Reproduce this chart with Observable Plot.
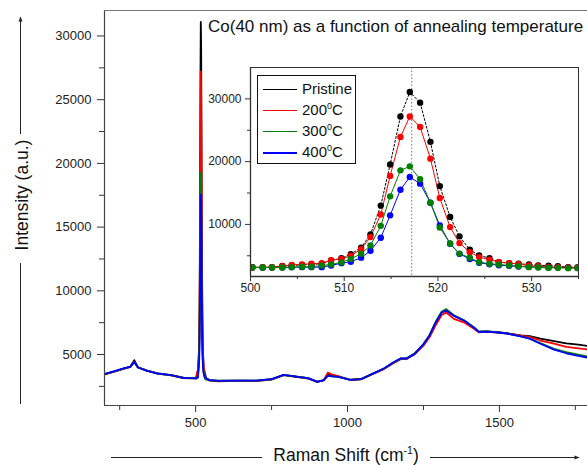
<!DOCTYPE html>
<html><head><meta charset="utf-8">
<script src="https://cdn.jsdelivr.net/npm/d3@7"></script>
<script src="https://cdn.jsdelivr.net/npm/@observablehq/plot@0.6"></script>
<style>
body{margin:0;background:#fff;}
#wrap{position:relative;width:587px;height:465px;overflow:hidden;font-family:"Liberation Sans",Arial,sans-serif;color:#111;background:#fff;}
#main,#inset,#deco{position:absolute;}
#main{left:0;top:0}
#inset{left:195px;top:60px}
#deco{left:0;top:0}
.t{position:absolute;white-space:nowrap;}
#title{left:208px;top:17px;font-size:17px;line-height:20px;}
#ylab{left:22px;top:195px;font-size:17.5px;line-height:20px;transform:translate(-50%,-50%) rotate(-90deg);}
#xlab{left:346px;top:456px;font-size:17.5px;line-height:16px;transform:translate(-50%,-50%);}
.sp{font-size:0.6em;position:relative;top:-0.7em;}
#legend{position:absolute;left:257px;top:75px;width:99px;height:89px;border:1.5px solid #111;background:#fff;box-sizing:border-box;}
.row{position:absolute;left:5px;height:20px;font-size:15px;}
.row .ln{position:absolute;left:0;top:10px;width:34px;}
.row .lb{position:absolute;left:39px;top:0;line-height:20px;}
</style></head>
<body><div id="wrap"></div>
<script>
// ---------- data ----------
const seriesNames = ["Pristine", "200\u2070C", "300\u2070C", "400\u2070C"];
const seriesColors = ["#000000", "#ff0000", "#008000", "#0000ff"];

// wide spectrum positions (cm-1), outside the 500-535 window
const wideX = [200, 230, 260, 285, 298, 310, 340, 375, 420, 460, 490,
  545, 575, 640, 700, 750, 790, 835, 870, 900, 922, 935, 950, 970, 1010, 1045, 1080, 1120, 1150, 1175, 1195,
  1220, 1250, 1270, 1290, 1310, 1325, 1350, 1385, 1415, 1432, 1460, 1495, 1525, 1570, 1600, 1635, 1680, 1720, 1760, 1790];
const pristineWide = [3460, 3650, 3880, 4050, 4560, 4000, 3740, 3520, 3380, 3180, 3150,
  2990, 2950, 2960, 2960, 3060, 3400, 3260, 3150, 2880, 2990, 3450, 3350, 3260, 3020, 3080, 3460, 3900, 4350, 4680, 4700,
  5050, 5800, 6500, 7500, 8300, 8480, 8050, 7650, 7150, 6800, 6820, 6750, 6680, 6500, 6450, 6250, 6050, 5880, 5780, 5680];
const t200Wide = [3440, 3640, 3860, 4030, 4450, 3990, 3730, 3500, 3360, 3150, 3130,
  2960, 2900, 2930, 2920, 3030, 3380, 3230, 3120, 2860, 2980, 3580, 3420, 3300, 3000, 3060, 3430, 3860, 4300, 4640, 4660,
  5000, 5700, 6350, 7300, 8100, 8300, 7800, 7500, 7050, 6750, 6780, 6720, 6640, 6480, 6380, 6100, 5850, 5600, 5480, 5400];
const t300Wide = [3450, 3650, 3880, 4040, 4400, 4000, 3730, 3510, 3370, 3160, 3140,
  2970, 2930, 2950, 2940, 3050, 3390, 3240, 3140, 2850, 2980, 3340, 3290, 3240, 3010, 3070, 3450, 3890, 4340, 4680, 4700,
  5050, 5820, 6520, 7550, 8380, 8560, 8080, 7660, 7150, 6800, 6820, 6740, 6660, 6420, 6250, 5900, 5450, 5180, 5000, 4850];
const t400Wide = [3460, 3670, 3900, 4030, 4420, 3980, 3720, 3510, 3380, 3150, 3150,
  2990, 2940, 2950, 2950, 3070, 3410, 3250, 3150, 2860, 2990, 3330, 3280, 3250, 3010, 3070, 3460, 3900, 4370, 4690, 4690,
  5030, 5800, 6500, 7500, 8300, 8450, 8040, 7650, 7120, 6780, 6800, 6730, 6650, 6420, 6250, 5850, 5380, 5100, 4900, 4760];

// high-resolution points around the Si peak (inset window)
const peakX = [500.2, 501.3, 502.3, 503.4, 504.4, 505.5, 506.5, 507.6, 508.6, 509.7, 510.7, 511.8, 512.8, 513.9, 514.9, 516.0, 517.0,
  518.1, 519.2, 520.2, 521.3, 522.3, 523.4, 524.4, 525.5, 526.5, 527.6, 528.6, 529.7, 530.7, 531.8, 532.8, 533.9, 534.9];
const pristinePeak = [3190, 3130, 3190, 3400, 3450, 3560, 3620, 3730, 4260, 4600, 5250, 6300, 8400, 13000, 19550, 27200, 31100,
  29400, 23150, 16100, 11200, 8100, 5960, 5050, 4630, 3990, 3830, 3730, 3620, 3460, 3430, 3350, 3190, 3130];
const t200Peak = [3130, 3190, 3190, 3340, 3560, 3620, 3730, 3800, 4310, 4500, 5000, 6050, 7980, 11570, 17730, 23930, 27200,
  25520, 20480, 14200, 9570, 7020, 5580, 4790, 4370, 3990, 3830, 3670, 3460, 3350, 3190, 3190, 3130, 3130];
const t300Peak = [3130, 3130, 3130, 3130, 3190, 3250, 3250, 3450, 3620, 3950, 4500, 5320, 6640, 9770, 14470, 18610, 19250,
  17200, 13460, 9500, 6950, 5350, 4690, 3990, 3730, 3620, 3460, 3350, 3190, 3130, 3080, 3080, 3030, 3030];
const t400Peak = [3130, 3130, 3130, 3130, 3190, 3190, 3190, 3190, 3450, 3830, 4050, 4700, 5800, 7880, 11440, 15530, 17550,
  16490, 13460, 9840, 6920, 5300, 4500, 3900, 3650, 3500, 3400, 3300, 3250, 3200, 3150, 3150, 3150, 3130];

const peakLineX = [517.2];
const mainXMajor = [500, 1000, 1500], mainXMinor = [250, 750, 1250, 1750];
const mainYMajor = [5000, 10000, 15000, 20000, 25000, 30000];
const mainYMinor = [2500, 7500, 12500, 17500, 22500, 27500];
const insetXMajor = [500, 510, 520, 530], insetXMinor = [505, 515, 525, 535];
const insetYMajor = [10000, 20000, 30000], insetYMinor = [5000, 15000, 25000];

// ---------- build tables ----------
const wideVals = [pristineWide, t200Wide, t300Wide, t400Wide];
const peakVals = [pristinePeak, t200Peak, t300Peak, t400Peak];
const full = seriesNames.map((s, i) => {
  const pts = wideX.map((x, j) => ({x, y: wideVals[i][j], s}))
    .concat(peakX.map((x, j) => ({x, y: peakVals[i][j], s})));
  pts.sort((a, b) => a.x - b.x);
  return pts;
});
const inset = seriesNames.map((s, i) => peakX.map((x, j) => ({x, y: peakVals[i][j], s})));

const fmt = d3.format("d");
const font = '"Liberation Sans", Arial, sans-serif';
const wrap = document.getElementById("wrap");

const main = Plot.plot({
  width: 587, height: 465,
  marginLeft: 104, marginRight: 0, marginTop: 10, marginBottom: 60,
  style: {fontFamily: font, fontSize: "13px", color: "#222", background: "transparent"},
  x: {domain: [200, 1790]},
  y: {domain: [1000, 32000]},
  marks: [
    Plot.axisX({ticks: mainXMajor, tickSize: 7, tickPadding: 5, tickFormat: fmt, label: null, stroke: "#333", fontSize: 13}),
    Plot.axisX({ticks: mainXMinor, tickSize: 5, tickFormat: () => "", label: null, stroke: "#333"}),
    Plot.axisY({ticks: mainYMajor, tickSize: 7, tickPadding: 6, tickFormat: fmt, label: null, stroke: "#333", fontSize: 13}),
    Plot.axisY({ticks: mainYMinor, tickSize: 5, tickFormat: () => "", label: null, stroke: "#333"}),
    ...full.map((d, i) => Plot.line(d, {x: "x", y: "y", stroke: seriesColors[i], strokeWidth: 1.8, clip: true})),
    Plot.ruleX([200], {stroke: "#444", strokeWidth: 1.2}),
    Plot.ruleY([1000], {stroke: "#444", strokeWidth: 1.2}),
    Plot.ruleY([32000], {stroke: "#777", strokeWidth: 1})
  ]
});
main.id = "main";
wrap.appendChild(main);

const insetOrder = [0, 3, 1, 2];
const insetPlot = Plot.plot({
  width: 390, height: 241,
  marginLeft: 55, marginRight: 7, marginTop: 7, marginBottom: 25,
  style: {fontFamily: font, fontSize: "12px", color: "#222", background: "transparent"},
  x: {domain: [500, 535]},
  y: {domain: [1700, 35000]},
  marks: [
    Plot.frame({fill: "#fff", stroke: null}),
    Plot.ruleX(peakLineX, {stroke: "#777", strokeDasharray: "1.5,2", strokeWidth: 1}),
    Plot.axisX({ticks: insetXMajor, tickSize: 5, tickPadding: 2, tickFormat: fmt, label: null, stroke: "#333", fontSize: 12}),
    Plot.axisX({ticks: insetXMinor, tickSize: 3, tickFormat: () => "", label: null, stroke: "#333"}),
    Plot.axisY({ticks: insetYMajor, tickSize: 5, tickPadding: 4, tickFormat: fmt, label: null, stroke: "#333", fontSize: 12}),
    Plot.axisY({ticks: insetYMinor, tickSize: 3, tickFormat: () => "", label: null, stroke: "#333"}),
    ...insetOrder.map(i => Plot.line(inset[i], {x: "x", y: "y", stroke: seriesColors[i], strokeWidth: 1,
        strokeDasharray: i === 0 ? "2,2" : null, clip: true})),
    ...insetOrder.map(i => Plot.dot(inset[i], {x: "x", y: "y", r: 3.2, fill: seriesColors[i], stroke: null, clip: true})),
    Plot.frame({stroke: "#333", strokeWidth: 1}),
    Plot.ruleX([500], {stroke: "#333", strokeWidth: 1.3}),
    Plot.ruleY([1700], {stroke: "#333", strokeWidth: 1.3})
  ]
});
insetPlot.id = "inset";
wrap.appendChild(insetPlot);

// texts
function addText(id, html) { const d = document.createElement("div"); d.className = "t"; d.id = id; d.innerHTML = html; wrap.appendChild(d); }
addText("title", "Co(40 nm) as a function of annealing temperature");
addText("ylab", "Intensity (a.u.)");
addText("xlab", "Raman Shift (cm<span class=\"sp\">-1</span>)");

// legend
const lg = document.createElement("div"); lg.id = "legend";
const rowTops = [3, 24, 45, 66];
seriesNames.forEach((s, i) => {
  const r = document.createElement("div"); r.className = "row"; r.style.top = rowTops[i] + "px";
  const label = i === 0 ? s : s.replace("\u2070C", "<span class=\"sp\">0</span>C");
  r.innerHTML = `<div class="ln" style="border-top:${i === 3 ? 2 : 1.3}px solid ${seriesColors[i]}"></div><div class="lb">${label}</div>`;
  lg.appendChild(r);
});
wrap.appendChild(lg);

// axis-title arrow lines
const ns = "http://www.w3.org/2000/svg";
const deco = document.createElementNS(ns, "svg");
deco.setAttribute("id", "deco"); deco.setAttribute("width", 587); deco.setAttribute("height", 465);
deco.innerHTML = `
<defs><marker id="ah" viewBox="0 0 10 10" refX="9" refY="5" markerWidth="7" markerHeight="5" orient="auto">
<path d="M0,1 L10,5 L0,9 z" fill="#222"/></marker></defs>
<line x1="20.5" y1="404" x2="20.5" y2="263" stroke="#222" stroke-width="1"/>
<line x1="20.5" y1="134" x2="20.5" y2="17" stroke="#222" stroke-width="1" marker-end="url(#ah)"/>
<line x1="111" y1="457.5" x2="262" y2="457.5" stroke="#222" stroke-width="1"/>
<line x1="430" y1="457.5" x2="579" y2="457.5" stroke="#222" stroke-width="1" marker-end="url(#ah)"/>`;
wrap.appendChild(deco);
</script></body></html>
